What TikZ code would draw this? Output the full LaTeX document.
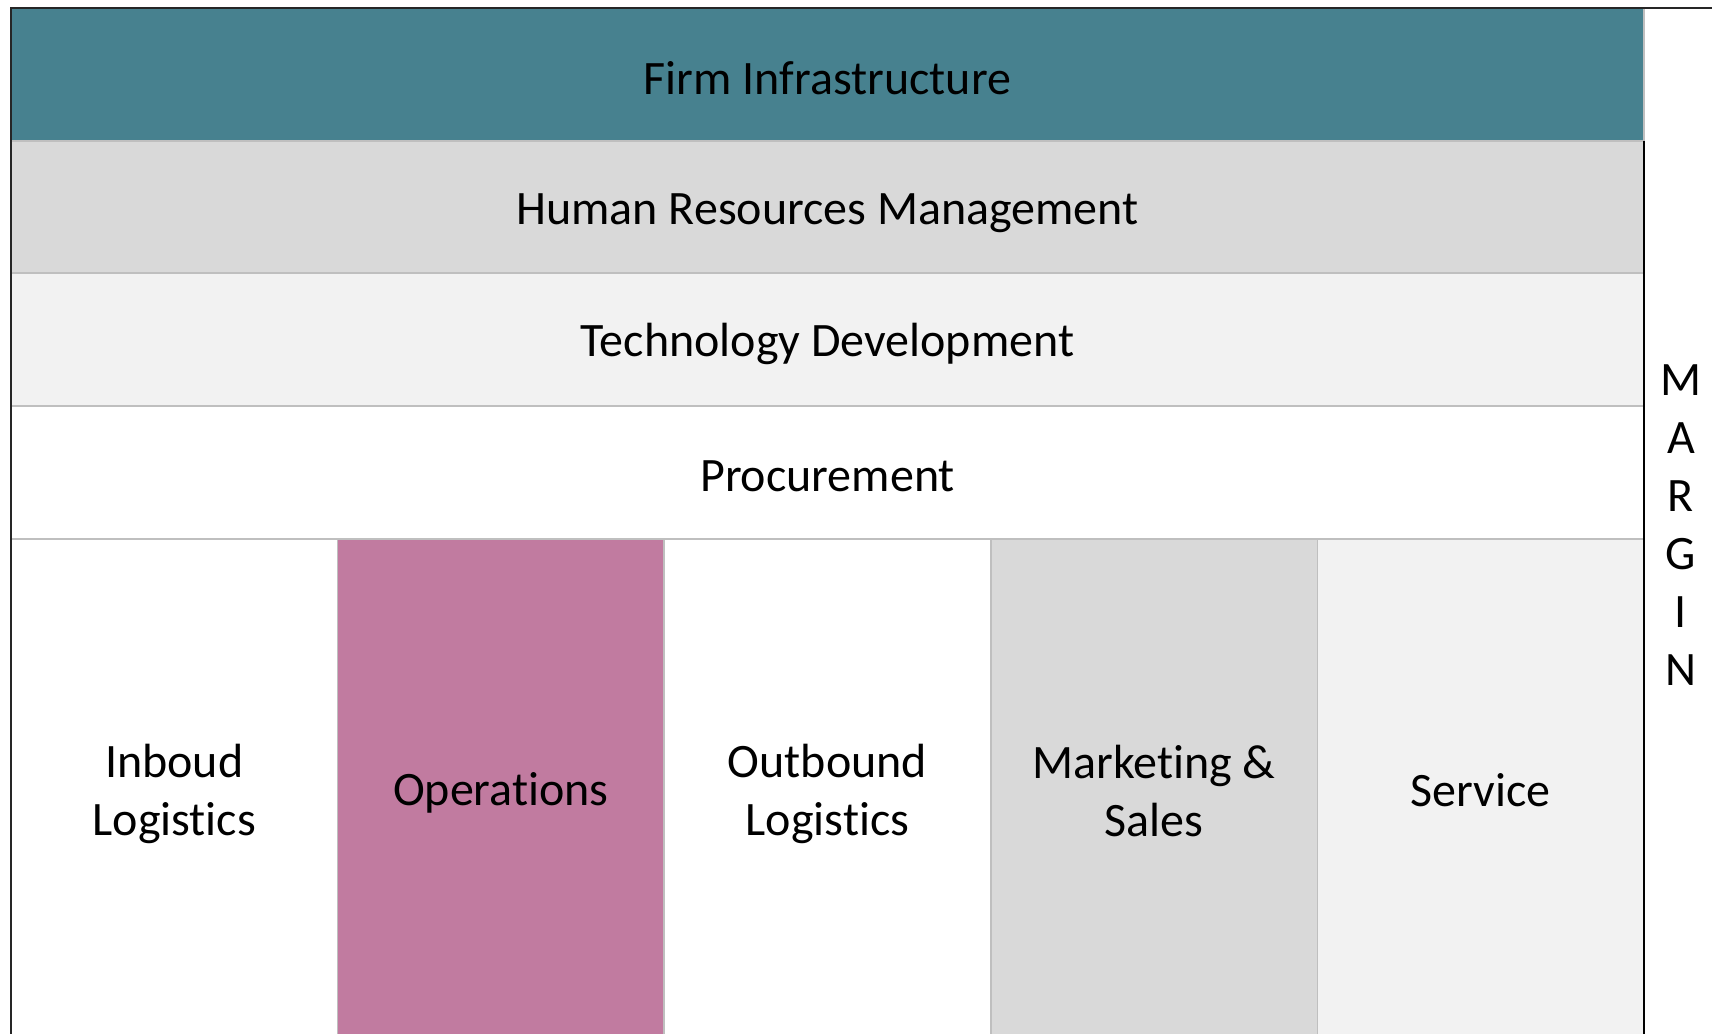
\documentclass[tikz,border=0pt]{standalone}
\usepackage{fontspec}
\setmainfont[Ligatures=NoCommon]{Carlito}
\definecolor{teal1}{HTML}{47818F}
\definecolor{gray1}{HTML}{D9D9D9}
\definecolor{gray2}{HTML}{F2F2F2}
\definecolor{pink1}{HTML}{C17BA0}
\definecolor{sep}{HTML}{BFBFBF}
\definecolor{edge}{HTML}{262626}
\tikzset{
  cell/.style={line width=1.5pt, inner sep=0pt, outer sep=0pt},
  band/.style={cell, draw=sep, minimum width=1633pt, minimum height=133pt},
  col/.style={cell, draw=none, minimum width=326.6pt, minimum height=494pt},
  lbl/.style={inner sep=0pt, align=center, font=\fontsize{48}{58}\selectfont, text=black},
  sepline/.style={draw=sep, line width=1.5pt},
  border/.style={line width=2pt, draw=edge}
}
\begin{document}
\begin{tikzpicture}[x=1pt,y=-1pt]
\useasboundingbox[fill=white] (0,0) rectangle (1712,1033);
\node[band, fill=teal1, minimum height=133pt, label={[lbl, name=firmt, yshift=-3.5pt]center:Firm Infrastructure}] (firm) at (827.5,74.5) {};
\node[band, fill=gray1, minimum height=132pt, label={[lbl, name=hrt, yshift=-6.5pt]center:Human Resources Management}] (hr) at (827.5,207) {};
\node[band, fill=gray2, minimum height=133pt, label={[lbl, name=techt, yshift=-4.5pt]center:Technology Development}] (tech) at (827.5,339.5) {};
\node[band, fill=white, minimum height=133pt, label={[lbl, name=proct, yshift=-3.5pt]center:Procurement}] (proc) at (827.5,472.5) {};
\node[col, fill=white, label={[lbl, name=inbt, yshift=-7.5pt]center:Inboud\\Logistics}] (inb) at (174.3,786.5) {};
\node[col, fill=pink1, label={[lbl, name=opst, yshift=-6.5pt]center:Operations}] (ops) at (500.9,786.5) {};
\node[col, fill=white, label={[lbl, name=outbt, yshift=-7.5pt]center:Outbound\\Logistics}] (outb) at (827.5,786.5) {};
\node[col, fill=gray1, label={[lbl, name=mktt, yshift=-4.5pt]center:Marketing \&\\Sales}] (mkt) at (1154.1,786.5) {};
\node[col, fill=gray2, label={[lbl, name=srvt, yshift=-3.5pt]center:Service}] (srv) at (1480.7,786.5) {};
\node[lbl] (margin) at (1681,525) {M\\A\\R\\G\\I\\N};
\draw[sepline] (inb.north east) -- (inb.south east);
\draw[sepline] (ops.north east) -- (ops.south east);
\draw[sepline] (outb.north east) -- (outb.south east);
\draw[sepline] (mkt.north east) -- (mkt.south east);
\draw[sepline] (proc.south west) -- (proc.south east);
\coordinate (tr) at (1712,8);
\draw[border] (tr) -- (firm.north west) -- (inb.south west);
\draw[line width=2pt, draw=black] (hr.north east) -- (srv.south east);
\end{tikzpicture}
\end{document}
